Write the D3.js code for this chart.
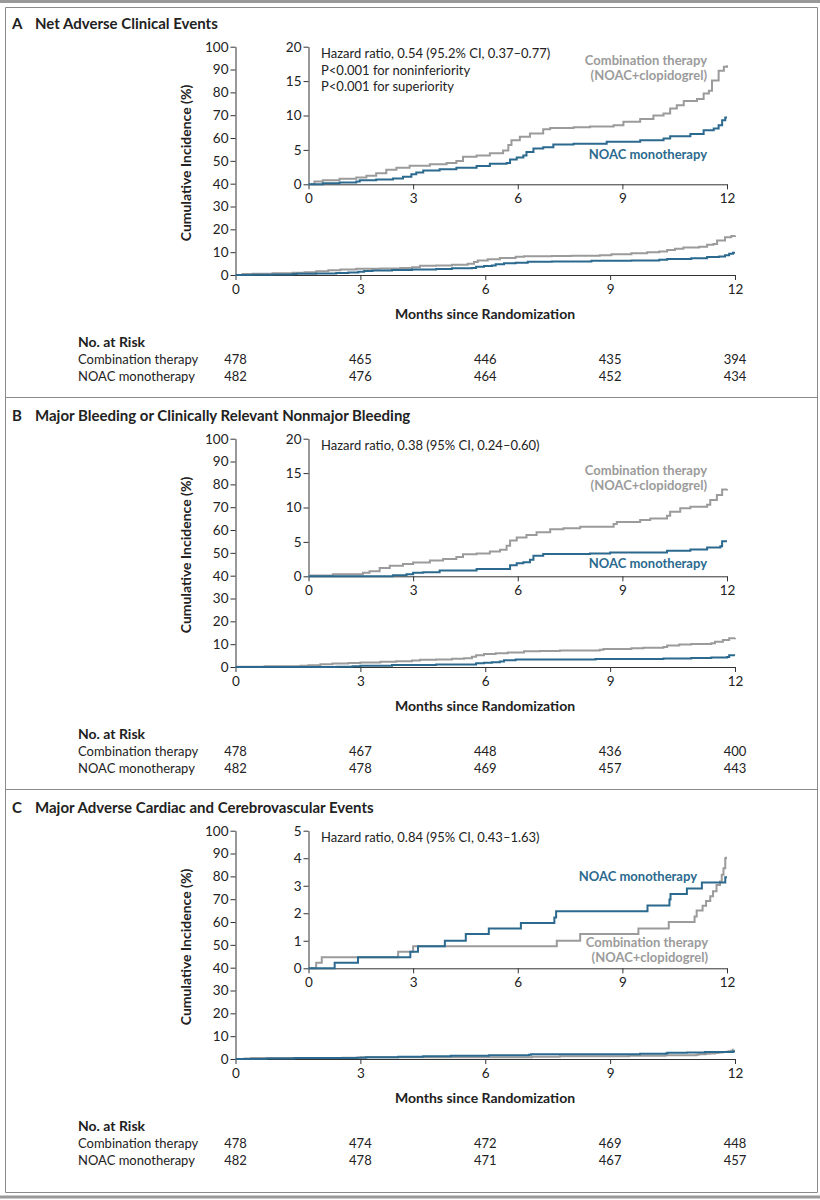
<!DOCTYPE html>
<html>
<head>
<meta charset="utf-8">
<script src="https://cdn.jsdelivr.net/npm/d3@7"></script>
<style>
  html, body { margin: 0; padding: 0; background: #fff; }
  svg { display: block; font-family: Lato, "Open Sans", sans-serif; }
  .axis text { font-family: Lato, sans-serif; font-size: 13.5px; fill: #222; }
  .axis path, .axis line { stroke: #333; stroke-width: 1; }
</style>
</head>
<body>
<svg id="chart" width="820" height="1200"></svg>
<script>
// ---------------- DATA ----------------
const panelLetters = ["A", "B", "C"];
const panelTitles = [
  "Net Adverse Clinical Events",
  "Major Bleeding or Clinically Relevant Nonmajor Bleeding",
  "Major Adverse Cardiac and Cerebrovascular Events"
];
const hrTexts = [
  ["Hazard ratio, 0.54 (95.2% CI, 0.37\u20130.77)", "P<0.001 for noninferiority", "P<0.001 for superiority"],
  ["Hazard ratio, 0.38 (95% CI, 0.24\u20130.60)"],
  ["Hazard ratio, 0.84 (95% CI, 0.43\u20131.63)"]
];
const monthTicks = [0, 3, 6, 9, 12];
const mainYTicks = [0, 10, 20, 30, 40, 50, 60, 70, 80, 90, 100];
const insetYTicks = [[0, 5, 10, 15, 20], [0, 5, 10, 15, 20], [0, 1, 2, 3, 4, 5]];
const insetYMax = [20, 20, 5];
const seriesNames = ["Combination therapy", "NOAC monotherapy"];
const comboLabel = ["Combination therapy", "(NOAC+clopidogrel)"];
const noacLabel = "NOAC monotherapy";
const axisTitleY = "Cumulative Incidence (%)";
const axisTitleX = "Months since Randomization";
const riskTitle = "No. at Risk";

// cumulative incidence (%) step curves: [month, percent]
const comboA = [[0,0],[0.17,0.4],[0.41,0.6],[0.89,0.8],[1.37,1.0],[1.66,1.25],[1.94,1.6],[2.23,2.1],[2.52,2.4],[2.9,2.7],[3.48,2.9],[3.96,3.1],[4.24,3.4],[4.43,4.0],[4.82,4.2],[5.2,4.5],[5.58,4.9],[5.73,5.7],[5.82,6.4],[6.06,6.9],[6.35,7.4],[6.73,8.0],[6.93,8.2],[7.6,8.3],[8.07,8.4],[8.75,8.6],[9.03,9.1],[9.51,9.5],[9.89,10.0],[10.18,10.3],[10.37,11.0],[10.56,11.5],[10.76,12.1],[11.14,12.4],[11.33,13.2],[11.48,13.6],[11.57,15.1],[11.76,16.5],[11.91,17.1],[12,17.3]];
const noacA = [[0,0],[0.41,0.15],[0.89,0.25],[1.37,0.4],[1.47,0.6],[1.94,0.7],[2.42,0.85],[2.71,1.1],[2.95,1.45],[3.09,1.7],[3.29,2.0],[3.76,2.2],[4.24,2.4],[4.82,2.65],[5.2,3.0],[5.68,3.1],[5.78,3.6],[5.97,3.9],[6.16,4.2],[6.25,4.7],[6.45,5.2],[6.73,5.4],[7.02,5.8],[7.6,5.9],[8.55,6.2],[9.51,6.4],[10.18,6.65],[10.37,7.0],[10.95,7.3],[11.33,7.85],[11.62,8.1],[11.76,8.6],[11.86,9.3],[11.95,9.7],[12,9.7]];
const comboB = [[0,0],[0.03,0.1],[0.7,0.3],[1.56,0.5],[1.75,0.75],[2.04,1.2],[2.33,1.55],[2.71,1.8],[3.0,2.0],[3.48,2.3],[3.86,2.5],[4.24,2.8],[4.43,3.2],[4.82,3.3],[5.2,3.6],[5.49,3.85],[5.68,4.45],[5.78,5.2],[5.97,5.65],[6.25,6.0],[6.54,6.4],[6.93,6.85],[7.31,7.0],[7.79,7.2],[8.75,7.6],[8.84,7.9],[9.51,8.2],[9.8,8.4],[10.28,8.8],[10.37,9.4],[10.66,9.9],[10.95,10.1],[11.43,10.4],[11.52,11.1],[11.71,11.8],[11.86,12.6],[12,12.7]];
const noacB = [[0,0],[2.42,0.15],[2.81,0.3],[3.0,0.5],[3.29,0.6],[3.76,0.85],[4.82,1.05],[5.78,1.6],[5.97,1.9],[6.16,2.05],[6.35,2.4],[6.45,3.0],[6.73,3.25],[8.07,3.3],[8.65,3.45],[10.28,3.7],[10.95,3.9],[11.43,4.2],[11.81,4.35],[11.86,5.1],[12,5.1]];
const comboC = [[0,0],[0.22,0.2],[0.38,0.4],[2.57,0.6],[3.0,0.8],[7.12,1.0],[7.79,1.25],[9.46,1.45],[10.33,1.68],[11.07,1.88],[11.13,2.1],[11.3,2.27],[11.4,2.45],[11.52,2.62],[11.6,2.8],[11.7,3.03],[11.8,3.15],[11.85,3.4],[11.9,3.64],[11.95,4.0],[11.97,4.05]];
const noacC = [[0,0],[0.75,0.2],[1.42,0.4],[2.92,0.6],[3.14,0.8],[3.91,1.0],[4.51,1.25],[5.17,1.45],[6.09,1.65],[7.05,1.85],[7.1,2.07],[9.72,2.28],[10.35,2.5],[10.38,2.7],[10.85,2.9],[11.28,3.12],[11.95,3.31],[12,3.31]];
const comboSeries = [comboA, comboB, comboC];
const noacSeries = [noacA, noacB, noacC];

const riskCombo = [[478,465,446,435,394],[478,467,448,436,400],[478,474,472,469,448]];
const riskNoac  = [[482,476,464,452,434],[482,478,469,457,443],[482,478,471,467,457]];

// ---------------- STYLE / LAYOUT ----------------
const BLUE = "#2b6a8e";
const GRAY = "#9b9b9b";
const TEXT = "#222";
const FRAME = "#8a8a8a";
const panelStep = 392;
const fmt = d3.format("d");

const svg = d3.select("#chart");

// Outer frame
svg.append("line").attr("x1", 0).attr("x2", 820).attr("y1", 1.5).attr("y2", 1.5)
  .attr("stroke", "#999").attr("stroke-width", 3);
svg.append("line").attr("x1", 0).attr("x2", 820).attr("y1", 1197).attr("y2", 1197)
  .attr("stroke", "#999").attr("stroke-width", 3);
const frameH = [7.5, 397.5, 789.5, 1192.5];
frameH.forEach(y => svg.append("line").attr("x1", 5.5).attr("x2", 817.5).attr("y1", y).attr("y2", y)
  .attr("stroke", FRAME).attr("stroke-width", 1));
[5.5, 817.5].forEach(x => svg.append("line").attr("x1", x).attr("x2", x).attr("y1", 7.5).attr("y2", 1192.5)
  .attr("stroke", FRAME).attr("stroke-width", 1));

// label layouts per panel (annotation positions, relative to panel)
const labelLayout = [
  { combo: { x: 707, y: [65, 80] }, noac: { x: 707, y: 159 } },
  { combo: { x: 707, y: [83, 98] }, noac: { x: 707, y: 176 } },
  { combo: { x: 708, y: [163, 178] }, noac: { x: 697, y: 97 } }
];

function drawPanel(i) {
  const g = svg.append("g").attr("transform", `translate(0,${i * panelStep})`);

  // Title
  g.append("text").attr("x", 12).attr("y", 29).attr("font-weight", "bold")
    .attr("font-size", 15).attr("fill", TEXT).text(panelLetters[i]);
  g.append("text").attr("x", 35).attr("y", 29).attr("font-weight", "bold")
    .attr("font-size", 15).attr("fill", TEXT).text(panelTitles[i]);

  // Main plot
  const x = d3.scaleLinear().domain([0, 12]).range([235.5, 735]);
  const y = d3.scaleLinear().domain([0, 100]).range([275, 46.7]);

  g.append("g").attr("class", "axis").attr("transform", "translate(235.5,0)")
    .call(d3.axisLeft(y).tickValues(mainYTicks).tickFormat(fmt).tickSize(5).tickSizeOuter(0).tickPadding(2));
  g.append("g").attr("class", "axis").attr("transform", "translate(0,275)")
    .call(d3.axisBottom(x).tickValues(monthTicks).tickFormat(fmt).tickSize(5).tickSizeOuter(0).tickPadding(4));

  const lineMain = d3.line().x(d => x(d[0])).y(d => y(d[1])).curve(d3.curveStepAfter);
  g.append("path").datum(comboSeries[i]).attr("d", lineMain)
    .attr("fill", "none").attr("stroke", GRAY).attr("stroke-width", 2);
  g.append("path").datum(noacSeries[i]).attr("d", lineMain)
    .attr("fill", "none").attr("stroke", BLUE).attr("stroke-width", 2);

  // Axis titles
  g.append("text").attr("transform", "translate(191,163) rotate(-90)")
    .attr("text-anchor", "middle").attr("font-weight", "bold").attr("font-size", 14)
    .attr("fill", TEXT).text(axisTitleY);
  g.append("text").attr("x", 485).attr("y", 319).attr("text-anchor", "middle")
    .attr("font-weight", "bold").attr("font-size", 14).attr("fill", TEXT).text(axisTitleX);

  // Risk table
  g.append("text").attr("x", 78).attr("y", 347).attr("font-weight", "bold")
    .attr("font-size", 14).attr("fill", TEXT).text(riskTitle);
  const rows = [riskCombo[i], riskNoac[i]];
  rows.forEach((vals, r) => {
    const yy = 364 + r * 16.5;
    g.append("text").attr("x", 78).attr("y", yy).attr("font-size", 13).attr("fill", TEXT)
      .text(seriesNames[r]);
    g.selectAll(null).data(vals).enter().append("text")
      .attr("x", (d, k) => x(monthTicks[k])).attr("y", yy)
      .attr("text-anchor", "middle").attr("font-size", 13).attr("fill", TEXT)
      .text(d => d);
  });

  // Inset
  const xi = d3.scaleLinear().domain([0, 12]).range([308.5, 727]);
  const yi = d3.scaleLinear().domain([0, insetYMax[i]]).range([184.3, 46.7]);
  g.append("g").attr("class", "axis").attr("transform", "translate(308.5,0)")
    .call(d3.axisLeft(yi).tickValues(insetYTicks[i]).tickFormat(fmt).tickSize(5).tickSizeOuter(0).tickPadding(2));
  g.append("g").attr("class", "axis").attr("transform", "translate(0,184.3)")
    .call(d3.axisBottom(xi).tickValues(monthTicks).tickFormat(fmt).tickSize(5).tickSizeOuter(0).tickPadding(4));

  const lineInset = d3.line().x(d => xi(d[0])).y(d => yi(d[1])).curve(d3.curveStepAfter);
  g.append("path").datum(comboSeries[i]).attr("d", lineInset)
    .attr("fill", "none").attr("stroke", GRAY).attr("stroke-width", 2);
  g.append("path").datum(noacSeries[i]).attr("d", lineInset)
    .attr("fill", "none").attr("stroke", BLUE).attr("stroke-width", 2);

  // HR text
  hrTexts[i].forEach((t, k) => {
    g.append("text").attr("x", 321).attr("y", 58 + k * 16.5).attr("font-size", 13)
      .attr("fill", TEXT).text(t);
  });

  // Series labels
  const L = labelLayout[i];
  comboLabel.forEach((t, k) => {
    g.append("text").attr("x", L.combo.x).attr("y", L.combo.y[k]).attr("text-anchor", "end")
      .attr("font-size", 13).attr("font-weight", "bold").attr("fill", GRAY).text(t);
  });
  g.append("text").attr("x", L.noac.x).attr("y", L.noac.y).attr("text-anchor", "end")
    .attr("font-size", 13).attr("font-weight", "bold").attr("fill", BLUE).text(noacLabel);
}

[0, 1, 2].forEach(drawPanel);
</script>
</body>
</html>
